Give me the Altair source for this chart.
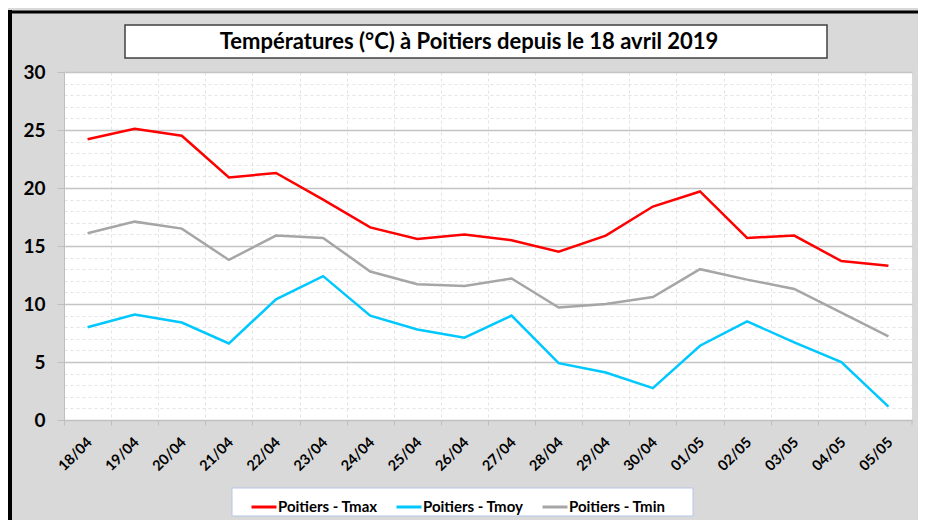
import altair as alt
import pandas as pd

dates = ["18/04", "19/04", "20/04", "21/04", "22/04", "23/04", "24/04", "25/04", "26/04",
         "27/04", "28/04", "29/04", "30/04", "01/05", "02/05", "03/05", "04/05", "05/05"]
tmax = [24.2, 25.1, 24.5, 20.9, 21.3, 19.0, 16.6, 15.6, 16.0, 15.5, 14.5, 15.9, 18.4, 19.7, 15.7, 15.9, 13.7, 13.3]
tmoy = [8.0, 9.1, 8.4, 6.6, 10.4, 12.4, 9.0, 7.8, 7.1, 9.0, 4.9, 4.1, 2.75, 6.4, 8.5, 6.7, 5.0, 1.15]
tmin = [16.1, 17.1, 16.5, 13.8, 15.9, 15.7, 12.8, 11.7, 11.55, 12.2, 9.7, 10.0, 10.6, 13.0, 12.1, 11.3, 9.25, 7.2]

series_names = ["Poitiers - Tmax", "Poitiers - Tmoy", "Poitiers - Tmin"]
series_colors = ["#ff0000", "#00c8ff", "#a6a6a6"]
y_ticks = list(range(0, 31))
title_text = "Températures (°C) à Poitiers depuis le 18 avril 2019"

FONT = "Lato"
W, H = 848, 348
step = W / len(dates)

rows = []
for name, vals in zip(series_names, [tmax, tmoy, tmin]):
    for d, v in zip(dates, vals):
        rows.append({"date": d, "value": v, "series": name})
df = pd.DataFrame(rows)

lines = alt.Chart(df).mark_line(strokeWidth=2.5).encode(
    x=alt.X("date:O", sort=dates, title=None,
            scale=alt.Scale(type="point", padding=0.5),
            axis=alt.Axis(labelAngle=-45, labelFont=FONT, labelFontWeight="bold",
                          labelFontSize=14.5, labelColor="#000000", labelPadding=10,
                          tickOffset=-step / 2, labelOffset=step / 2 - 3,
                          tickColor="#bfbfbf", tickSize=5, domainColor="#bfbfbf",
                          grid=True, gridColor="#e3e3e3", gridDash=[3, 3])),
    y=alt.Y("value:Q", title=None, scale=alt.Scale(domain=[0, 30], nice=False, zero=True),
            axis=alt.Axis(values=y_ticks, labelExpr="datum.value % 5 === 0 ? datum.label : ''",
                          labelFont=FONT, labelFontWeight="bold", labelFontSize=19,
                          labelColor="#000000", labelPadding=12, labelOverlap=False,
                          labelFlush=False, tickSize=7,
                          tickColor={"condition": {"test": "datum.value % 5 === 0", "value": "#bfbfbf"},
                                     "value": "transparent"},
                          domainColor="#bfbfbf",
                          gridColor={"condition": {"test": "datum.value % 5 === 0", "value": "#c4c4c4"},
                                     "value": "#e3e3e3"},
                          gridDash={"condition": {"test": "datum.value % 5 === 0", "value": [1, 0]},
                                    "value": [3, 3]},
                          gridWidth={"condition": {"test": "datum.value % 5 === 0", "value": 1.3},
                                     "value": 1})),
    color=alt.Color("series:N", sort=series_names,
                    scale=alt.Scale(domain=series_names, range=series_colors),
                    legend=alt.Legend(title=None, orient="none", direction="horizontal",
                                      legendX=186, legendY=421, symbolType="stroke",
                                      symbolSize=625, symbolStrokeWidth=3,
                                      labelFont=FONT, labelFontWeight="bold", labelFontSize=15,
                                      labelColor="#000000", labelOffset=0, columnPadding=12,
                                      padding=0))
)

one = pd.DataFrame({"t": [title_text]})

title_box = alt.Chart(one).mark_rect(fill="white", stroke="#404040", strokeWidth=1.5).encode(
    x=alt.value(61), x2=alt.value(763), y=alt.value(-47), y2=alt.value(-14))
title_mark = alt.Chart(one).mark_text(font=FONT, fontWeight="bold", fontSize=22,
                                      color="#000000", align="center", baseline="middle").encode(
    x=alt.value(405), y=alt.value(-30), text="t:N")
legend_box = alt.Chart(one).mark_rect(fill="white", stroke="#b4c7e7", strokeWidth=1).encode(
    x=alt.value(168), x2=alt.value(629), y=alt.value(416), y2=alt.value(444))
frame_left = alt.Chart(one).mark_rule(color="#000000", strokeWidth=4).encode(
    x=alt.value(-54), y=alt.value(-62), y2=alt.value(450))
frame_top = alt.Chart(one).mark_rule(color="#000000", strokeWidth=3).encode(
    x=alt.value(-56), x2=alt.value(854), y=alt.value(-60))
right_tick = alt.Chart(one).mark_rule(color="#bfbfbf", strokeWidth=1).encode(
    x=alt.value(W), y=alt.value(H), y2=alt.value(H + 5))

chart = alt.layer(frame_left, frame_top, title_box, title_mark, legend_box, lines, right_tick).properties(
    width=W, height=H, background="#d9d9d9",
    padding={"left": 56, "top": 64, "right": 6, "bottom": 100},
    autosize=alt.AutoSizeParams(type="none"),
).configure_view(fill="white", stroke=None)

chart.save("out.html", embed_options={"renderer": "svg", "actions": False})
